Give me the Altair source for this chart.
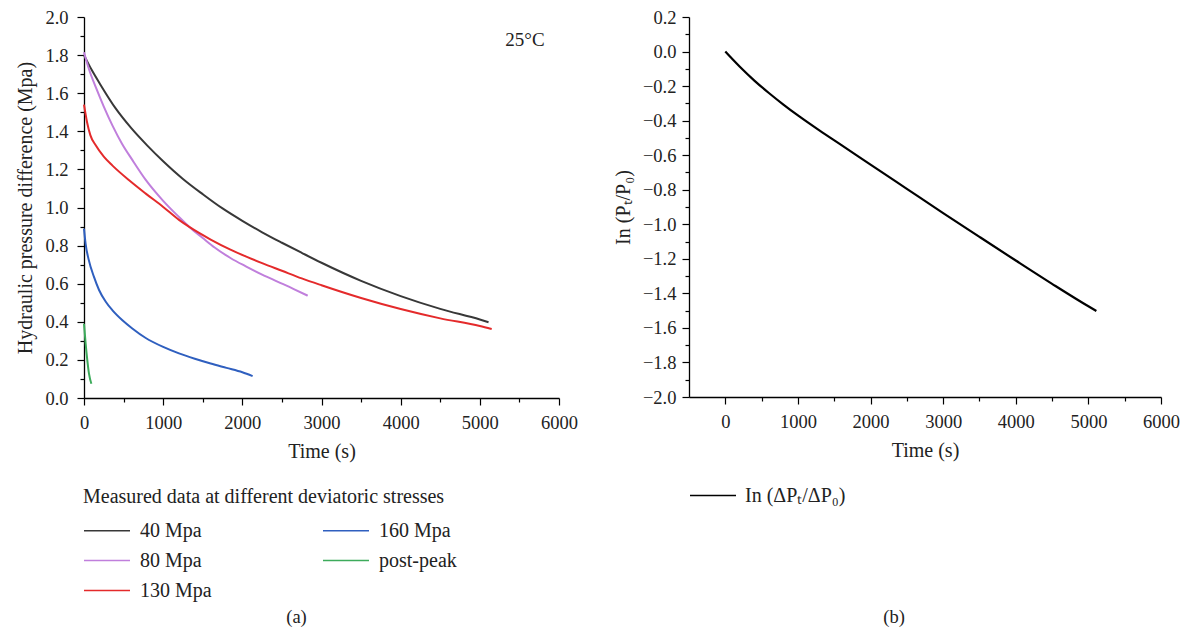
import altair as alt
import pandas as pd

FONT = "Liberation Serif"

# ---------- panel (a): hydraulic pressure difference ----------
t_40 = [0, 100, 200, 400, 600, 800, 1000, 1250, 1500, 1750, 2000, 2250, 2500, 2750,
        3000, 3500, 4000, 4500, 5000, 5110]
v_40 = [1.80, 1.72, 1.65, 1.52, 1.415, 1.325, 1.243, 1.15, 1.07, 0.995, 0.93, 0.87,
        0.815, 0.762, 0.71, 0.615, 0.535, 0.468, 0.412, 0.398]

t_80 = [0, 60, 150, 250, 360, 480, 610, 780, 1000, 1200, 1330, 1500, 1650, 1850,
        2050, 2250, 2450, 2650, 2826]
v_80 = [1.815, 1.73, 1.63, 1.53, 1.43, 1.335, 1.25, 1.145, 1.035, 0.95, 0.898, 0.84,
        0.79, 0.735, 0.69, 0.648, 0.61, 0.572, 0.537]

t_130 = [0, 20, 40, 80, 150, 250, 360, 570, 780, 1000, 1200, 1330, 1600, 1850, 2050,
         2250, 2500, 2750, 3000, 3500, 4000, 4500, 5000, 5150]
v_130 = [1.54, 1.49, 1.445, 1.38, 1.325, 1.267, 1.22, 1.143, 1.073, 1.003, 0.935,
         0.898, 0.832, 0.779, 0.742, 0.708, 0.668, 0.628, 0.592, 0.525, 0.467, 0.418,
         0.378, 0.362]

t_160 = [0, 20, 60, 125, 190, 275, 360, 485, 610, 780, 1000, 1200, 1400, 1600, 1800,
         2000, 2130]
v_160 = [0.889, 0.81, 0.725, 0.637, 0.567, 0.505, 0.46, 0.408, 0.365, 0.315, 0.268,
         0.234, 0.206, 0.181, 0.158, 0.135, 0.115]

t_post = [0, 21, 42, 63, 93]
v_post = [0.39, 0.285, 0.198, 0.128, 0.075]

series_names = ["40 Mpa", "80 Mpa", "130 Mpa", "160 Mpa", "post-peak"]
series_colors = ["#383838", "#c07fdc", "#e42a2b", "#2f5fbf", "#3dab5b"]
series_t = [t_40, t_80, t_130, t_160, t_post]
series_v = [v_40, v_80, v_130, v_160, v_post]

rows = []
for name, ts, vs in zip(series_names, series_t, series_v):
    for i, (t, v) in enumerate(zip(ts, vs)):
        rows.append({"series": name, "t": t, "v": v, "i": i})
df_a = pd.DataFrame(rows)

note_df = pd.DataFrame({"t": [5570], "v": [1.879], "label": ["25°C"]})

# ---------- panel (b): ln(Pt/P0) ----------
t_ln = [0, 100, 200, 400, 600, 800, 1000, 1300, 1600, 2000, 2500, 3000, 3500, 4000,
        4500, 5000, 5110]
v_ln = [0, -0.045, -0.088, -0.168, -0.24, -0.307, -0.37, -0.458, -0.542, -0.655,
        -0.795, -0.935, -1.073, -1.21, -1.345, -1.475, -1.502]
ln_name = "In (ΔPₜ/ΔP₀)"
df_b = pd.DataFrame({"t": t_ln, "v": v_ln, "series": [ln_name] * len(t_ln),
                     "i": list(range(len(t_ln)))})

x_vals_a = list(range(0, 6001, 500))
y_vals_a = [round(i * 0.1, 1) for i in range(0, 21)]
x_vals_b = list(range(0, 6001, 500))
y_vals_b = [round(-2.0 + i * 0.1, 1) for i in range(0, 23)]

major_x = "datum.value % 1000 === 0"
major_y = "round(datum.value * 10) % 2 === 0"


def x_axis(vals):
    return alt.Axis(
        values=vals, format="d", title="Time (s)",
        labelExpr=f"{major_x} ? datum.label : ''",
        labelOverlap=False, labelFlush=False, labelPadding=8, titlePadding=10,
        tickSize={"condition": {"test": major_x, "value": 7}, "value": 4},
    )


def y_axis(vals, title, pad):
    return alt.Axis(
        values=vals, title=title,
        labelExpr=f"{major_y} ? format(datum.value, '.1f') : ''",
        labelOverlap=False, labelFlush=False, labelPadding=pad, titlePadding=9,
        tickSize={"condition": {"test": major_y, "value": 7}, "value": 4},
    )


sym_path = "M-1,0H3"
LBL = 18.5
LEG = 20

xa = alt.X("t:Q", scale=alt.Scale(domain=[0, 6000], nice=False), axis=x_axis(x_vals_a))
ya = alt.Y("v:Q", scale=alt.Scale(domain=[0, 2.0], nice=False),
           axis=y_axis(y_vals_a, "Hydraulic pressure difference (Mpa)", 9))

lines_a = alt.Chart(df_a).mark_line(strokeWidth=2, interpolate="monotone").encode(
    x=xa,
    y=ya,
    color=alt.Color(
        "series:N",
        scale=alt.Scale(domain=series_names, range=series_colors),
        legend=alt.Legend(
            title="Measured data at different deviatoric stresses",
            orient="none", legendX=-1, legendY=470, columns=2, direction="vertical",
            symbolType=sym_path, symbolSize=529, symbolStrokeWidth=1.5,
            labelOffset=32, columnPadding=108, rowPadding=7, titlePadding=11,
            padding=0, labelFontSize=LEG, titleFontSize=LEG, titleFontWeight="normal",
            labelFont=FONT, titleFont=FONT, labelColor="#222", titleColor="#222",
            symbolFillColor="transparent", titleLimit=600,
        ),
    ),
    order="i:Q",
)

note = alt.Chart(note_df).mark_text(font=FONT, fontSize=19, color="#222").encode(
    x=xa, y=ya, text="label:N"
)

panel_a = alt.layer(lines_a, note).properties(
    width=475, height=381,
    title=alt.TitleParams("(a)", orient="bottom", anchor="middle", font=FONT,
                          fontSize=LBL, fontWeight="normal", color="#222", offset=7,
                          dx=-25),
)

lines_b = alt.Chart(df_b).mark_line(strokeWidth=2.2, interpolate="monotone").encode(
    x=alt.X("t:Q", scale=alt.Scale(domain=[-500, 6000], nice=False), axis=x_axis(x_vals_b)),
    y=alt.Y("v:Q", scale=alt.Scale(domain=[-2.0, 0.2], nice=False),
            axis=y_axis(y_vals_b, "In (Pₜ/P₀)", 6)),
    color=alt.Color(
        "series:N",
        scale=alt.Scale(domain=[ln_name], range=["#000000"]),
        legend=alt.Legend(
            title=None, orient="none", legendX=0, legendY=466,
            symbolType=sym_path, symbolSize=529, symbolStrokeWidth=1.5,
            labelOffset=31, padding=0, labelFontSize=LEG, labelFont=FONT,
            labelColor="#222", symbolFillColor="transparent",
        ),
    ),
    order="i:Q",
)

panel_b = lines_b.properties(
    width=472, height=380,
    title=alt.TitleParams("(b)", orient="bottom", anchor="middle", font=FONT,
                          fontSize=LBL, fontWeight="normal", color="#222", offset=102,
                          dx=-31),
)

chart = alt.hconcat(panel_a, panel_b, spacing=35).resolve_scale(
    color="independent"
).resolve_legend(color="independent").properties(
    padding={"left": 15, "top": 8, "right": 5, "bottom": 5},
    background="white",
).configure_view(stroke=None).configure_axis(
    labelFont=FONT, titleFont=FONT, labelFontSize=LBL, titleFontSize=20,
    titleFontWeight="normal", labelColor="#222", titleColor="#222",
    domainColor="#000", domainWidth=1.3, tickColor="#000", tickWidth=1.2,
    grid=False,
)

chart.save("out.html", embed_options={"renderer": "svg", "actions": False})
